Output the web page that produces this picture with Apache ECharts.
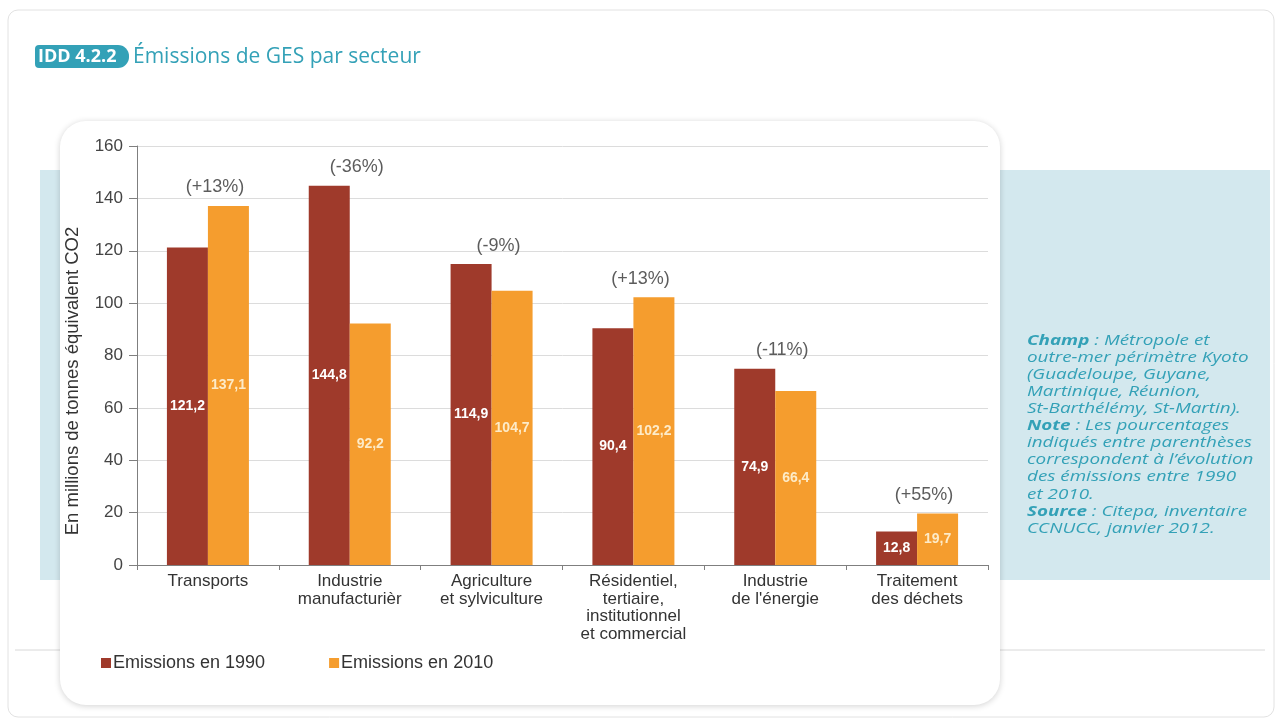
<!DOCTYPE html>
<html><head><meta charset="utf-8">
<script src="https://cdn.jsdelivr.net/npm/echarts@6/dist/echarts.min.js"></script>
<style>html,body{margin:0;padding:0;background:#fff}#c{width:1280px;height:723px}</style>
</head><body><div id="c"></div>
<script>
const categories = ["Transports", "Industrie\nmanufacturièr", "Agriculture\net sylviculture", "Résidentiel,\ntertiaire,\ninstitutionnel\net commercial", "Industrie\nde l'énergie", "Traitement\ndes déchets"];
const emissions1990 = [121.2, 144.8, 114.9, 90.4, 74.9, 12.8];
const emissions2010 = [137.1, 92.2, 104.7, 102.2, 66.4, 19.7];
const evolutionLabels = ["(+13%)", "(-36%)", "(-9%)", "(+13%)", "(-11%)", "(+55%)"];
const yTicks = [0, 20, 40, 60, 80, 100, 120, 140, 160];
const yAxisTitle = 'En millions de tonnes équivalent CO2';

const chart = echarts.init(document.getElementById('c'), null, {renderer: 'canvas'});
const fmt = p => String(p.value).replace('.', ',');
const teal = '#33a1b7';
const sideText = [
  ['b','Champ'],['n',' : Métropole et'],['nl'],
  ['n','outre-mer périmètre Kyoto'],['nl'],
  ['n','(Guadeloupe, Guyane,'],['nl'],
  ['n','Martinique, Réunion,'],['nl'],
  ['n','St-Barthélémy, St-Martin).'],['nl'],
  ['b','Note'],['n',' : Les pourcentages'],['nl'],
  ['n','indiqués entre parenthèses'],['nl'],
  ['n','correspondent à l\u2019évolution'],['nl'],
  ['n','des émissions entre 1990'],['nl'],
  ['n','et 2010.'],['nl'],
  ['b','Source'],['n',' : Citepa, inventaire'],['nl'],
  ['n','CCNUCC, janvier 2012.']
].map(s => s[0]==='nl' ? '\n' : '{' + s[0] + '|' + s[1] + '}').join('');

chart.setOption({
  animation: false,
  backgroundColor: '#fff',
  textStyle: {fontFamily: 'Liberation Sans, Arial, sans-serif'},
  graphic: [
    {type:'rect', z:-30, shape:{x:8,y:10,width:1266,height:707,r:10}, style:{fill:'#fff',stroke:'#e2e2e2',lineWidth:1}},
    {type:'rect', z:-25, shape:{x:40,y:170,width:1230,height:410}, style:{fill:'#d3e8ee'}},
    {type:'line', z:-25, shape:{x1:15,y1:650,x2:1265,y2:650}, style:{stroke:'#d8d8d8',lineWidth:1}},
    {type:'rect', z:-20, shape:{x:60,y:121,width:940,height:584,r:26}, style:{fill:'#fff',shadowBlur:6,shadowColor:'rgba(0,0,0,0.18)',shadowOffsetX:0,shadowOffsetY:1}},
    {type:'rect', z:-5, shape:{x:35,y:45,width:94,height:23,r:[4,11,11,4]}, style:{fill:teal}},
    {type:'text', z:-4, x:38, y:57, style:{text:'IDD 4.2.2', fill:'#fff', font:'bold 18px "Open Sans", sans-serif', verticalAlign:'middle'}},
    {type:'text', z:-4, x:133, y:57, style:{text:'Émissions de GES par secteur', fill:teal, font:'500 21px "Open Sans", sans-serif', verticalAlign:'middle'}},
    {type:'text', z:-4, x:1027, y:332, scaleX:1.3, style:{text: sideText, fill:teal,
      rich:{
        n:{fontFamily:'"Open Sans", sans-serif', fontStyle:'italic', fontSize:14.5, lineHeight:17.1, fill:teal},
        b:{fontFamily:'"Open Sans", sans-serif', fontStyle:'italic', fontWeight:'bold', fontSize:14.5, lineHeight:17.1, fill:teal}
      }}},
    {type:'text', z:5, x:73, y:381, rotation:Math.PI/2, style:{text: yAxisTitle, fill:'#333', font:'18.5px "Liberation Sans", Arial, sans-serif', align:'center', verticalAlign:'middle'}}
  ],
  grid: {left:137, right:292, top:146, bottom:158, containLabel:false},
  legend: {
    data: ['Emissions en 1990', 'Emissions en 2010'],
    left: 96, top: 649, itemWidth: 10, itemHeight: 10, itemGap: 64, icon: 'rect',
    textStyle: {fontSize: 18, color: '#333', fontFamily: 'Liberation Sans, Arial, sans-serif', padding:[0,0,0,-3]}
  },
  xAxis: {
    type: 'category', data: categories,
    axisLine: {lineStyle: {color: '#7f7f7f'}},
    axisTick: {show: true, length: 5, lineStyle: {color: '#7f7f7f'}},
    axisLabel: {color: '#333', fontSize: 17, lineHeight: 17.5, margin: 8, interval: 0}
  },
  yAxis: {
    type: 'value', min: 0, max: 160, interval: 20,
    axisLine: {show: true, lineStyle: {color: '#7f7f7f'}},
    axisTick: {show: true, length: 8, lineStyle: {color: '#7f7f7f'}},
    axisLabel: {color: '#444', fontSize: 17, margin: 14, formatter: v => yTicks.includes(v) ? String(v) : ''},
    splitLine: {lineStyle: {color: '#dcdcdc'}}
  },
  series: [
    {name: 'Emissions en 1990', type: 'bar', data: emissions1990, barWidth: 41, barGap: '0%',
     itemStyle: {color: '#9f3a2b'},
     label: {show: true, position: 'inside', formatter: fmt, color: '#fff', fontSize: 14, fontWeight: 'bold'}},
    {name: 'Emissions en 2010', type: 'bar', data: emissions2010, barWidth: 41,
     itemStyle: {color: '#f59d2e'},
     label: {show: true, position: 'inside', formatter: fmt, color: '#fdebc8', fontSize: 14, fontWeight: 'bold'}},
    {name: 'evolution', type: 'scatter', symbolSize: 1, silent: true,
     itemStyle: {color: 'rgba(0,0,0,0)'},
     data: emissions1990.map((v, i) => Math.max(v, emissions2010[i])),
     label: {show: true, position: 'top', distance: 9, offset: [7, 0], color: '#333', fontSize: 18,
       formatter: p => evolutionLabels[p.dataIndex]}}
  ]
});
</script></body></html>
